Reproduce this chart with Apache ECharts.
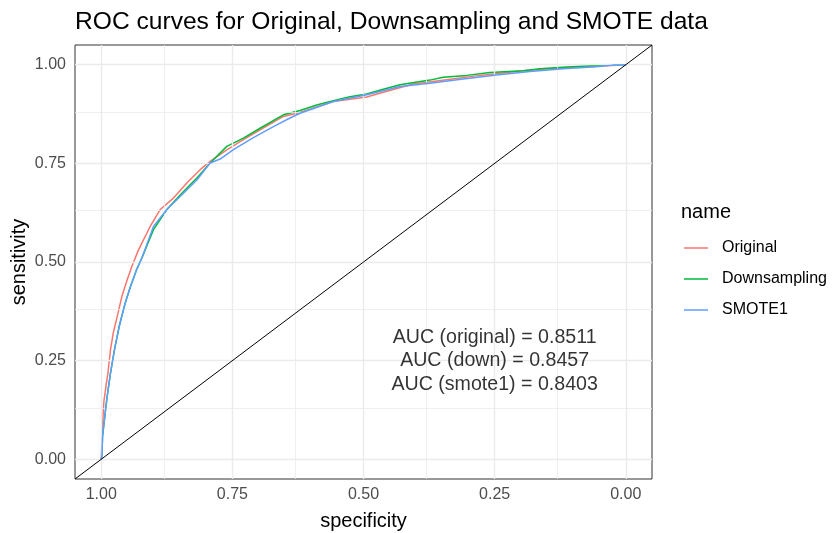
<!DOCTYPE html>
<html><head><meta charset="utf-8">
<script src="https://cdn.jsdelivr.net/npm/echarts@6/dist/echarts.min.js"></script>
<style>html,body{margin:0;padding:0;background:#fff}#c{width:840px;height:533px}</style>
</head><body><div id="c"></div>
<script>
const titleText = 'ROC curves for Original, Downsampling and SMOTE data';
const legendTitle = 'name';
const seriesNames = ['Original', 'Downsampling', 'SMOTE1'];
const seriesColors = ['#F8766D', '#00BA38', '#619CFF'];
const tickValues = [0, 0.25, 0.5, 0.75, 1];
const minorValues = [0.125, 0.375, 0.625, 0.875];

const origSpec = [1, 0.9987, 0.9962, 0.9949, 0.991, 0.9872, 0.9823, 0.9771, 0.9695, 0.9606, 0.9505, 0.9415, 0.9301, 0.9225, 0.9067, 0.8876, 0.8623, 0.8368, 0.8114, 0.7924, 0.7606, 0.729, 0.6971, 0.6528, 0.621, 0.5575, 0.4939, 0.4623, 0.4051, 0.3415, 0.2781, 0.1956, 0.132, 0.0749, 0];
const origSens = [0, 0.042, 0.118, 0.147, 0.185, 0.219, 0.278, 0.32, 0.362, 0.413, 0.455, 0.489, 0.527, 0.548, 0.59, 0.633, 0.662, 0.7, 0.734, 0.755, 0.784, 0.81, 0.835, 0.869, 0.879, 0.907, 0.918, 0.93, 0.951, 0.962, 0.973, 0.985, 0.991, 0.995, 1];

const downSpec = [1, 0.9987, 0.9975, 0.9924, 0.9886, 0.9823, 0.9747, 0.9657, 0.9543, 0.9442, 0.9328, 0.9225, 0.9004, 0.8749, 0.8495, 0.8177, 0.7924, 0.7606, 0.729, 0.6971, 0.6528, 0.621, 0.5891, 0.5575, 0.5257, 0.4939, 0.4623, 0.4305, 0.3733, 0.348, 0.3034, 0.259, 0.1956, 0.1638, 0.113, 0.0558, 0];
const downSens = [0, 0.008, 0.058, 0.118, 0.16, 0.219, 0.278, 0.337, 0.396, 0.438, 0.48, 0.51, 0.582, 0.633, 0.67, 0.713, 0.751, 0.793, 0.814, 0.839, 0.873, 0.884, 0.898, 0.909, 0.919, 0.926, 0.938, 0.949, 0.961, 0.968, 0.973, 0.98, 0.985, 0.99, 0.994, 0.998, 1];

const smoteSpec = [1, 0.9987, 0.9975, 0.9924, 0.9886, 0.9823, 0.9747, 0.9657, 0.9543, 0.9442, 0.9328, 0.9225, 0.9004, 0.8749, 0.8495, 0.8177, 0.7924, 0.7733, 0.748, 0.7099, 0.6718, 0.64, 0.621, 0.5575, 0.4939, 0.4305, 0.3733, 0.3099, 0.2463, 0.1829, 0.1194, 0.0558, 0.0242, 0];
const smoteSens = [0, 0.008, 0.058, 0.118, 0.16, 0.219, 0.278, 0.337, 0.396, 0.438, 0.48, 0.51, 0.59, 0.633, 0.666, 0.708, 0.751, 0.761, 0.785, 0.815, 0.843, 0.865, 0.877, 0.907, 0.924, 0.945, 0.953, 0.964, 0.974, 0.983, 0.99, 0.995, 0.999, 1];

const diagSpec = [1.05, -0.05];
const diagSens = [-0.05, 1.05];

const aucLines = ['AUC (original) = 0.8511', 'AUC (down) = 0.8457', 'AUC (smote1) = 0.8403'];
const aucSpec = 0.25;
const aucSens = 0.25;

const FONT = 'Liberation Sans, Arial, sans-serif';
const zip = (a, b) => a.map((v, i) => [v, b[i]]);
const curveData = [zip(origSpec, origSens), zip(downSpec, downSens), zip(smoteSpec, smoteSens)];

const gridLineData = [].concat(
  minorValues.map(v => ({ xAxis: v, lineStyle: { color: '#EBEBEB', width: 0.8, type: 'solid' } })),
  minorValues.map(v => ({ yAxis: v, lineStyle: { color: '#EBEBEB', width: 0.8, type: 'solid' } })),
  tickValues.map(v => ({ xAxis: v, lineStyle: { color: '#EBEBEB', width: 1.4, type: 'solid' } })),
  tickValues.map(v => ({ yAxis: v, lineStyle: { color: '#EBEBEB', width: 1.4, type: 'solid' } }))
);

const chart = echarts.init(document.getElementById('c'), null, { renderer: 'canvas' });
const option = {
  animation: false,
  backgroundColor: '#ffffff',
  textStyle: { fontFamily: FONT },
  title: [
    { text: titleText, left: 75, top: 10, textStyle: { fontFamily: FONT, fontSize: 24.6, fontWeight: 'normal', color: '#000' }, padding: 0 },
    { text: legendTitle, left: 681, top: 202, textStyle: { fontFamily: FONT, fontSize: 20, fontWeight: 'normal', color: '#000' }, padding: 0 }
  ],
  legend: {
    data: seriesNames,
    orient: 'vertical',
    left: 684, top: 240,
    padding: 0,
    icon: 'rect',
    itemWidth: 24, itemHeight: 1.5, itemGap: 15,
    textStyle: { fontFamily: FONT, fontSize: 16, color: '#000', lineHeight: 16, padding: [0, 0, 0, 9] },
    selectedMode: false
  },
  grid: { left: 75, top: 45, width: 577, height: 434, show: true, borderColor: '#333333', borderWidth: 1, backgroundColor: '#fff', containLabel: false, outerBoundsMode: 'none' },
  xAxis: {
    type: 'value', min: -0.05, max: 1.05, inverse: true,
    name: 'specificity', nameLocation: 'middle', nameGap: 32,
    nameTextStyle: { fontFamily: FONT, fontSize: 20, color: '#000', lineHeight: 20 },
    axisLine: { show: false },
    axisTick: { show: true, customValues: tickValues, length: 5, inside: false, lineStyle: { color: '#333333', width: 1 } },
    axisLabel: { customValues: tickValues, formatter: v => v.toFixed(2), color: '#4D4D4D', fontSize: 16, fontFamily: FONT, margin: 8 },
    splitLine: { show: false }, minorSplitLine: { show: false }
  },
  yAxis: {
    type: 'value', min: -0.05, max: 1.05,
    name: 'sensitivity', nameLocation: 'middle', nameGap: 46, nameMoveOverlap: false,
    nameTextStyle: { fontFamily: FONT, fontSize: 20, color: '#000', lineHeight: 20 },
    axisLine: { show: false },
    axisTick: { show: true, customValues: tickValues, length: 5, inside: false, lineStyle: { color: '#333333', width: 1 } },
    axisLabel: { customValues: tickValues, formatter: v => v.toFixed(2), color: '#4D4D4D', fontSize: 16, fontFamily: FONT, margin: 9 },
    splitLine: { show: false }, minorSplitLine: { show: false }
  },
  series: [
    {
      name: 'grid', type: 'line', data: [[0.5, 0.5]], symbol: 'none', z: 1, silent: true,
      lineStyle: { opacity: 0 },
      markLine: { silent: true, symbol: ['none', 'none'], label: { show: false }, animation: false, data: gridLineData }
    }
  ].concat(seriesNames.map((n, i) => ({
    name: n, type: 'line', data: curveData[i], symbol: 'none', showSymbol: false, z: 3 + i,
    color: seriesColors[i], itemStyle: { color: seriesColors[i] }, lineStyle: { color: seriesColors[i], width: 1.5 }, silent: true
  }))).concat([
    {
      name: 'diag', type: 'line', data: zip(diagSpec, diagSens), symbol: 'none', z: 7, silent: true,
      lineStyle: { color: '#000000', width: 1 }
    },
    {
      name: 'auc', type: 'scatter', data: [[aucSpec, aucSens]], symbolSize: 0, z: 8, silent: true,
      label: { show: true, position: 'inside', formatter: aucLines.join('\n'), fontFamily: FONT, fontSize: 19.6, lineHeight: 23.5, color: '#000', align: 'center', verticalAlign: 'middle' }
    }
  ])
};
chart.setOption(option);
</script>
</body></html>
